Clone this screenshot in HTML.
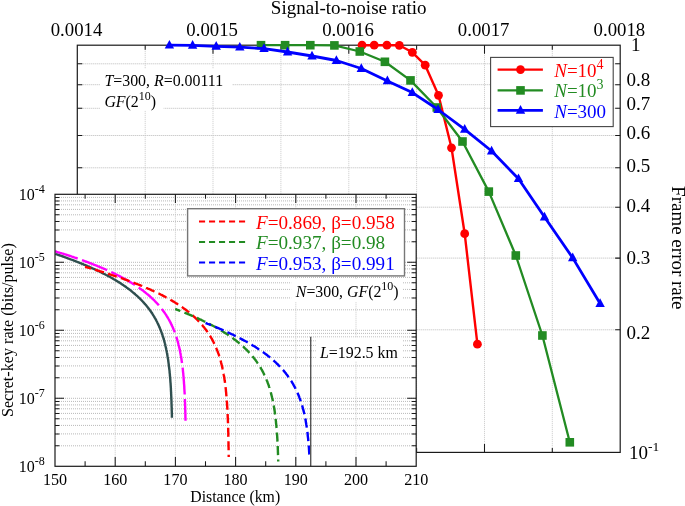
<!DOCTYPE html>
<html lang="en"><head><meta charset="utf-8"><title>Frame error rate vs signal-to-noise ratio</title>
<style>html,body{margin:0;padding:0;background:#fff}body{width:685px;height:506px;overflow:hidden}svg,svg text{font-family:"Liberation Serif","DejaVu Serif",serif}</style>
</head><body>
<svg width="685" height="506" viewBox="0 0 685 506" style="display:block;will-change:transform">
<rect width="685" height="506" fill="#fff"/>
<path d="M77.3 63.8 H620.2 M77.3 84.7 H620.2 M77.3 108.3 H620.2 M77.3 135.5 H620.2 M77.3 167.8 H620.2 M77.3 207.2 H620.2 M77.3 258.1 H620.2 M77.3 329.8 H620.2" stroke="#b9b9b9" stroke-width="1" stroke-dasharray="1 1" fill="none"/>
<path d="M213.0 45.2 V452.4 M348.8 45.2 V452.4 M484.5 45.2 V452.4 M145.2 45.2 V452.4 M280.9 45.2 V452.4 M416.6 45.2 V452.4 M552.3 45.2 V452.4" stroke="#c8c8c8" stroke-width="1" stroke-dasharray="1 1" fill="none"/>
<path d="M213.0 45.2 v8.5 M213.0 452.4 v-8.5 M348.8 45.2 v8.5 M348.8 452.4 v-8.5 M484.5 45.2 v8.5 M484.5 452.4 v-8.5 M145.2 45.2 v4.5 M145.2 452.4 v-4.5 M280.9 45.2 v4.5 M280.9 452.4 v-4.5 M416.6 45.2 v4.5 M416.6 452.4 v-4.5 M552.3 45.2 v4.5 M552.3 452.4 v-4.5 M77.3 63.8 h5 M620.2 63.8 h-5 M77.3 84.7 h5 M620.2 84.7 h-5 M77.3 108.3 h5 M620.2 108.3 h-5 M77.3 135.5 h5 M620.2 135.5 h-5 M77.3 167.8 h5 M620.2 167.8 h-5 M77.3 207.2 h5 M620.2 207.2 h-5 M77.3 258.1 h5 M620.2 258.1 h-5 M77.3 329.8 h5 M620.2 329.8 h-5" stroke="#1a1a1a" stroke-width="1.05" fill="none"/>
<rect x="77.3" y="45.2" width="542.9" height="407.2" fill="none" stroke="#1a1a1a" stroke-width="1.2"/>
<path d="M362.0 45.2 L374.2 45.2 L386.9 45.2 L399.3 45.3 L412.3 52.3 L425.2 65.2 L438.5 95.3 L451.5 147.8 L464.7 233.7 L477.4 344.2" fill="none" stroke="#ff0000" stroke-width="2.4" stroke-linejoin="round"/>
<circle cx="362.0" cy="45.2" r="4.4" fill="#ff0000"/>
<circle cx="374.2" cy="45.2" r="4.4" fill="#ff0000"/>
<circle cx="386.9" cy="45.2" r="4.4" fill="#ff0000"/>
<circle cx="399.3" cy="45.3" r="4.4" fill="#ff0000"/>
<circle cx="412.3" cy="52.3" r="4.4" fill="#ff0000"/>
<circle cx="425.2" cy="65.2" r="4.4" fill="#ff0000"/>
<circle cx="438.5" cy="95.3" r="4.4" fill="#ff0000"/>
<circle cx="451.5" cy="147.8" r="4.4" fill="#ff0000"/>
<circle cx="464.7" cy="233.7" r="4.4" fill="#ff0000"/>
<circle cx="477.4" cy="344.2" r="4.4" fill="#ff0000"/>
<path d="M261.0 45.2 L285.1 45.2 L310.3 45.2 L334.4 45.4 L359.8 51.5 L384.9 61.8 L410.5 80.4 L436.8 107.5 L462.5 141.5 L488.8 191.6 L515.8 255.5 L542.4 335.5 L569.8 442.3" fill="none" stroke="#228b22" stroke-width="2.3" stroke-linejoin="round"/>
<rect x="256.7" y="40.9" width="8.6" height="8.6" fill="#228b22"/>
<rect x="280.8" y="40.9" width="8.6" height="8.6" fill="#228b22"/>
<rect x="306.0" y="40.9" width="8.6" height="8.6" fill="#228b22"/>
<rect x="330.1" y="41.1" width="8.6" height="8.6" fill="#228b22"/>
<rect x="355.5" y="47.2" width="8.6" height="8.6" fill="#228b22"/>
<rect x="380.6" y="57.5" width="8.6" height="8.6" fill="#228b22"/>
<rect x="406.2" y="76.1" width="8.6" height="8.6" fill="#228b22"/>
<rect x="432.5" y="103.2" width="8.6" height="8.6" fill="#228b22"/>
<rect x="458.2" y="137.2" width="8.6" height="8.6" fill="#228b22"/>
<rect x="484.5" y="187.3" width="8.6" height="8.6" fill="#228b22"/>
<rect x="511.5" y="251.2" width="8.6" height="8.6" fill="#228b22"/>
<rect x="538.1" y="331.2" width="8.6" height="8.6" fill="#228b22"/>
<rect x="565.5" y="438.0" width="8.6" height="8.6" fill="#228b22"/>
<path d="M169.4 45.2 L192.6 45.3 L216.2 46.3 L239.8 47.2 L264.0 48.6 L287.6 52.0 L312.0 56.0 L336.4 60.5 L361.3 68.5 L387.4 80.9 L412.3 92.6 L438.0 109.5 L464.7 129.3 L491.6 151.0 L518.5 178.7 L544.5 217.0 L572.7 257.9 L600.1 303.5" fill="none" stroke="#0000ff" stroke-width="2.8" stroke-linejoin="round"/>
<path d="M169.4 39.9 L174.1 48.6 L164.7 48.6Z" fill="#0000ff"/>
<path d="M192.6 40.0 L197.3 48.7 L187.9 48.7Z" fill="#0000ff"/>
<path d="M216.2 41.0 L220.9 49.7 L211.5 49.7Z" fill="#0000ff"/>
<path d="M239.8 41.9 L244.5 50.6 L235.1 50.6Z" fill="#0000ff"/>
<path d="M264.0 43.3 L268.7 52.0 L259.3 52.0Z" fill="#0000ff"/>
<path d="M287.6 46.7 L292.3 55.4 L282.9 55.4Z" fill="#0000ff"/>
<path d="M312.0 50.7 L316.7 59.4 L307.3 59.4Z" fill="#0000ff"/>
<path d="M336.4 55.2 L341.1 63.9 L331.7 63.9Z" fill="#0000ff"/>
<path d="M361.3 63.2 L366.0 71.9 L356.6 71.9Z" fill="#0000ff"/>
<path d="M387.4 75.6 L392.1 84.3 L382.7 84.3Z" fill="#0000ff"/>
<path d="M412.3 87.3 L417.0 96.0 L407.6 96.0Z" fill="#0000ff"/>
<path d="M438.0 104.2 L442.7 112.9 L433.3 112.9Z" fill="#0000ff"/>
<path d="M464.7 124.0 L469.4 132.7 L460.0 132.7Z" fill="#0000ff"/>
<path d="M491.6 145.7 L496.3 154.4 L486.9 154.4Z" fill="#0000ff"/>
<path d="M518.5 173.4 L523.2 182.1 L513.8 182.1Z" fill="#0000ff"/>
<path d="M544.5 211.7 L549.2 220.4 L539.8 220.4Z" fill="#0000ff"/>
<path d="M572.7 252.6 L577.4 261.3 L568.0 261.3Z" fill="#0000ff"/>
<path d="M600.1 298.2 L604.8 306.9 L595.4 306.9Z" fill="#0000ff"/>
<rect x="490.6" y="57.4" width="122.6" height="69.2" fill="#fff" stroke="#444" stroke-width="1.1"/>
<path d="M497.6 69.6 H542.9" stroke="#ff0000" stroke-width="2.4" />
<circle cx="520.5" cy="69.6" r="4.4" fill="#ff0000"/>
<text x="554.2" y="76.6" font-size="19" fill="#ff0000"><tspan font-style="italic">N</tspan>=10<tspan dy="-8" font-size="14">4</tspan></text>
<path d="M497.6 90.4 H542.9" stroke="#228b22" stroke-width="2.4" />
<rect x="516.2" y="86.1" width="8.6" height="8.6" fill="#228b22"/>
<text x="554.2" y="97.3" font-size="19" fill="#228b22"><tspan font-style="italic">N</tspan>=10<tspan dy="-8" font-size="14">3</tspan></text>
<path d="M497.6 110.4 H542.9" stroke="#0000ff" stroke-width="2.7" />
<path d="M520.5 105.1 L525.2 113.8 L515.8 113.8Z" fill="#0000ff"/>
<text x="554.2" y="117.7" font-size="19" fill="#0000ff"><tspan font-style="italic">N</tspan>=300</text>
<text x="76.5" y="36" font-size="18.8" text-anchor="middle" fill="#000">0.0014</text>
<text x="212.2" y="36" font-size="18.8" text-anchor="middle" fill="#000">0.0015</text>
<text x="348.0" y="36" font-size="18.8" text-anchor="middle" fill="#000">0.0016</text>
<text x="483.7" y="36" font-size="18.8" text-anchor="middle" fill="#000">0.0017</text>
<text x="619.4" y="36" font-size="18.8" text-anchor="middle" fill="#000">0.0018</text>
<text x="348.7" y="13.8" font-size="19" text-anchor="middle" fill="#000">Signal-to-noise ratio</text>
<text x="631" y="51.2" font-size="19" fill="#000">1</text>
<text x="626.6" y="86.4" font-size="19" fill="#000">0.8</text>
<text x="626.6" y="110" font-size="19" fill="#000">0.7</text>
<text x="626.6" y="138.7" font-size="19" fill="#000">0.6</text>
<text x="626.6" y="171.5" font-size="19" fill="#000">0.5</text>
<text x="626.6" y="211.6" font-size="19" fill="#000">0.4</text>
<text x="626.6" y="264.4" font-size="19" fill="#000">0.3</text>
<text x="626.6" y="338.9" font-size="19" fill="#000">0.2</text>
<text x="629" y="458.9" font-size="19" fill="#000">10<tspan dy="-8" font-size="13.5">-1</tspan></text>
<text transform="translate(672.2 247.8) rotate(90)" font-size="19" text-anchor="middle" fill="#000">Frame error rate</text>
<rect x="100" y="69" width="132" height="22" fill="#fff"/><rect x="100" y="90" width="63.5" height="20.5" fill="#fff"/>
<text x="104.4" y="86.2" font-size="15.9" fill="#000"><tspan font-style="italic">T</tspan>=300, <tspan font-style="italic">R</tspan>=0.00111</text>
<text x="104.4" y="106.8" font-size="15.9" fill="#000"><tspan font-style="italic">GF</tspan>(2<tspan dy="-7" font-size="12">10</tspan><tspan dy="7">)</tspan></text>
<rect x="55.0" y="194.3" width="361.2" height="272.0" fill="#fff"/>
<path d="M55.0 262.3 H416.2 M55.0 241.8 H416.2 M55.0 229.9 H416.2 M55.0 221.4 H416.2 M55.0 214.8 H416.2 M55.0 209.4 H416.2 M55.0 204.8 H416.2 M55.0 200.9 H416.2 M55.0 197.4 H416.2 M55.0 330.3 H416.2 M55.0 309.8 H416.2 M55.0 297.9 H416.2 M55.0 289.4 H416.2 M55.0 282.8 H416.2 M55.0 277.4 H416.2 M55.0 272.8 H416.2 M55.0 268.9 H416.2 M55.0 265.4 H416.2 M55.0 398.3 H416.2 M55.0 377.8 H416.2 M55.0 365.9 H416.2 M55.0 357.4 H416.2 M55.0 350.8 H416.2 M55.0 345.4 H416.2 M55.0 340.8 H416.2 M55.0 336.9 H416.2 M55.0 333.4 H416.2 M55.0 445.8 H416.2 M55.0 433.9 H416.2 M55.0 425.4 H416.2 M55.0 418.8 H416.2 M55.0 413.4 H416.2 M55.0 408.8 H416.2 M55.0 404.9 H416.2 M55.0 401.4 H416.2" stroke="#b9b9b9" stroke-width="1" stroke-dasharray="1 1" fill="none"/>
<path d="M115.2 194.3 V466.3 M175.4 194.3 V466.3 M235.6 194.3 V466.3 M295.8 194.3 V466.3 M356.0 194.3 V466.3" stroke="#c8c8c8" stroke-width="1" stroke-dasharray="1 1" fill="none"/>
<path d="M115.2 194.3 v8.6 M115.2 466.3 v-9.3 M175.4 194.3 v8.6 M175.4 466.3 v-9.3 M235.6 194.3 v8.6 M235.6 466.3 v-9.3 M295.8 194.3 v8.6 M295.8 466.3 v-9.3 M356.0 194.3 v8.6 M356.0 466.3 v-9.3 M85.1 194.3 v4.4 M85.1 466.3 v-5 M145.3 194.3 v4.4 M145.3 466.3 v-5 M205.5 194.3 v4.4 M205.5 466.3 v-5 M265.7 194.3 v4.4 M265.7 466.3 v-5 M325.9 194.3 v4.4 M325.9 466.3 v-5 M386.1 194.3 v4.4 M386.1 466.3 v-5 M55.0 262.3 h9 M416.2 262.3 h-9 M55.0 241.8 h4.4 M416.2 241.8 h-4.4 M55.0 229.9 h4.4 M416.2 229.9 h-4.4 M55.0 221.4 h4.4 M416.2 221.4 h-4.4 M55.0 214.8 h4.4 M416.2 214.8 h-4.4 M55.0 209.4 h4.4 M416.2 209.4 h-4.4 M55.0 204.8 h4.4 M416.2 204.8 h-4.4 M55.0 200.9 h4.4 M416.2 200.9 h-4.4 M55.0 197.4 h4.4 M416.2 197.4 h-4.4 M55.0 330.3 h9 M416.2 330.3 h-9 M55.0 309.8 h4.4 M416.2 309.8 h-4.4 M55.0 297.9 h4.4 M416.2 297.9 h-4.4 M55.0 289.4 h4.4 M416.2 289.4 h-4.4 M55.0 282.8 h4.4 M416.2 282.8 h-4.4 M55.0 277.4 h4.4 M416.2 277.4 h-4.4 M55.0 272.8 h4.4 M416.2 272.8 h-4.4 M55.0 268.9 h4.4 M416.2 268.9 h-4.4 M55.0 265.4 h4.4 M416.2 265.4 h-4.4 M55.0 398.3 h9 M416.2 398.3 h-9 M55.0 377.8 h4.4 M416.2 377.8 h-4.4 M55.0 365.9 h4.4 M416.2 365.9 h-4.4 M55.0 357.4 h4.4 M416.2 357.4 h-4.4 M55.0 350.8 h4.4 M416.2 350.8 h-4.4 M55.0 345.4 h4.4 M416.2 345.4 h-4.4 M55.0 340.8 h4.4 M416.2 340.8 h-4.4 M55.0 336.9 h4.4 M416.2 336.9 h-4.4 M55.0 333.4 h4.4 M416.2 333.4 h-4.4 M55.0 445.8 h4.4 M416.2 445.8 h-4.4 M55.0 433.9 h4.4 M416.2 433.9 h-4.4 M55.0 425.4 h4.4 M416.2 425.4 h-4.4 M55.0 418.8 h4.4 M416.2 418.8 h-4.4 M55.0 413.4 h4.4 M416.2 413.4 h-4.4 M55.0 408.8 h4.4 M416.2 408.8 h-4.4 M55.0 404.9 h4.4 M416.2 404.9 h-4.4 M55.0 401.4 h4.4 M416.2 401.4 h-4.4" stroke="#1a1a1a" stroke-width="1.05" fill="none"/>
<path d="M55.3 253.9 L56.1 254.2 L56.9 254.4 L57.7 254.7 L58.4 255.0 L59.2 255.2 L60.0 255.5 L60.7 255.7 L61.9 256.1 L63.0 256.5 L64.1 256.9 L65.2 257.3 L66.2 257.7 L67.3 258.1 L68.4 258.5 L69.4 258.9 L70.5 259.3 L71.5 259.6 L72.5 260.0 L73.5 260.4 L74.5 260.8 L75.5 261.2 L76.5 261.6 L77.4 261.9 L78.4 262.3 L79.3 262.7 L80.3 263.1 L81.2 263.4 L82.1 263.8 L83.0 264.2 L83.9 264.6 L84.8 264.9 L85.7 265.3 L86.6 265.7 L87.4 266.1 L88.3 266.4 L89.1 266.8 L90.0 267.2 L90.8 267.5 L91.6 267.9 L92.4 268.3 L93.3 268.6 L94.1 269.0 L94.8 269.4 L95.6 269.7 L96.4 270.1 L97.2 270.4 L97.9 270.8 L98.7 271.2 L99.4 271.5 L100.1 271.9 L100.9 272.2 L101.6 272.6 L102.5 273.1 L103.5 273.6 L104.4 274.0 L105.3 274.5 L106.2 275.0 L107.1 275.4 L108.0 275.9 L108.9 276.4 L109.7 276.8 L110.5 277.3 L111.4 277.8 L112.2 278.2 L113.0 278.7 L113.8 279.2 L114.6 279.6 L115.4 280.1 L116.1 280.6 L116.9 281.0 L117.6 281.5 L118.4 281.9 L119.1 282.4 L119.8 282.8 L120.5 283.3 L121.2 283.8 L121.9 284.2 L122.6 284.7 L123.2 285.1 L124.1 285.7 L124.9 286.2 L125.7 286.8 L126.5 287.4 L127.2 287.9 L128.0 288.5 L128.7 289.0 L129.5 289.6 L130.2 290.1 L130.9 290.7 L131.6 291.3 L132.3 291.8 L132.9 292.4 L133.6 292.9 L134.3 293.5 L134.9 294.0 L135.5 294.6 L136.1 295.1 L136.7 295.6 L137.3 296.2 L137.9 296.7 L138.6 297.4 L139.3 298.0 L140.0 298.7 L140.6 299.3 L141.3 300.0 L141.9 300.6 L142.5 301.3 L143.1 301.9 L143.7 302.6 L144.3 303.2 L144.8 303.9 L145.4 304.5 L145.9 305.1 L146.5 305.8 L147.0 306.4 L147.5 307.1 L148.0 307.7 L148.5 308.3 L149.1 309.1 L149.6 309.8 L150.1 310.5 L150.7 311.3 L151.2 312.0 L151.7 312.8 L152.2 313.5 L152.6 314.2 L153.1 315.0 L153.5 315.7 L154.0 316.4 L154.4 317.2 L154.8 317.9 L155.3 318.6 L155.7 319.3 L156.1 320.1 L156.4 320.8 L156.8 321.5 L157.2 322.2 L157.5 323.0 L157.9 323.7 L158.2 324.4 L158.6 325.2 L159.0 326.1 L159.3 326.9 L159.7 327.7 L160.0 328.5 L160.4 329.4 L160.7 330.2 L161.0 331.0 L161.3 331.8 L161.6 332.6 L161.9 333.5 L162.2 334.3 L162.5 335.1 L162.7 335.9 L163.0 336.7 L163.3 337.5 L163.5 338.4 L163.7 339.2 L164.0 340.0 L164.2 340.8 L164.4 341.6 L164.6 342.4 L164.9 343.2 L165.1 344.1 L165.3 344.9 L165.4 345.7 L165.6 346.5 L165.8 347.3 L166.0 348.1 L166.2 348.9 L166.3 349.7 L166.5 350.5 L166.7 351.3 L166.8 352.2 L167.0 353.0 L167.1 353.8 L167.3 354.6 L167.4 355.4 L167.5 356.2 L167.7 357.0 L167.8 357.8 L167.9 358.6 L168.1 359.4 L168.2 360.2 L168.3 361.0 L168.4 361.8 L168.5 362.6 L168.6 363.4 L168.7 364.2 L168.8 365.0 L168.9 365.8 L169.0 366.7 L169.1 367.5 L169.2 368.3 L169.3 369.1 L169.4 369.9 L169.5 370.7 L169.6 371.5 L169.6 372.3 L169.7 373.1 L169.8 373.9 L169.9 374.7 L169.9 375.5 L170.0 376.3 L170.1 377.1 L170.1 377.9 L170.2 378.7 L170.3 379.5 L170.3 380.3 L170.4 381.1 L170.4 381.9 L170.5 382.7 L170.6 383.5 L170.6 384.3 L170.7 385.1 L170.7 385.9 L170.8 386.7 L170.8 387.5 L170.9 388.3 L170.9 389.1 L170.9 389.9 L171.0 390.7 L171.0 391.5 L171.1 392.3 L171.1 393.1 L171.1 394.0 L171.2 394.9 L171.2 395.8 L171.3 396.7 L171.3 397.6 L171.3 398.5 L171.4 399.4 L171.4 400.3 L171.5 401.2 L171.5 402.1 L171.5 403.0 L171.5 403.9 L171.6 404.8 L171.6 405.7 L171.6 406.6 L171.7 407.5 L171.7 408.4 L171.7 409.2 L171.7 410.1 L171.8 411.0 L171.8 411.9 L171.8 412.8 L171.8 413.7 L171.9 414.6 L171.9 415.5 L171.9 416.4 L171.9 417.3 L171.9 417.8" fill="none" stroke="#2f4f4f" stroke-width="2.4"/>
<path d="M55.1 251.3 L56.0 251.5 L56.8 251.8 L57.7 252.1 L58.6 252.3 L59.4 252.6 L60.3 252.9 L61.1 253.1 L62.0 253.4 L62.8 253.6 L63.6 253.9 L64.4 254.2 L65.3 254.4 L66.1 254.7 L66.9 255.0 L67.7 255.2 L68.5 255.5 L69.3 255.7 L70.0 256.0 L70.8 256.2 L71.6 256.5 L72.4 256.8 L73.1 257.0 L73.9 257.3 L75.0 257.7 L76.1 258.0 L77.2 258.4 L78.3 258.8 L79.4 259.2 L80.5 259.6 L81.6 260.0 L82.6 260.3 L83.6 260.7 L84.7 261.1 L85.7 261.5 L86.7 261.8 L87.7 262.2 L88.7 262.6 L89.7 263.0 L90.6 263.3 L91.6 263.7 L92.6 264.1 L93.5 264.4 L94.4 264.8 L95.4 265.2 L96.3 265.5 L97.2 265.9 L98.1 266.3 L98.9 266.6 L99.8 267.0 L100.7 267.4 L101.5 267.7 L102.4 268.1 L103.2 268.4 L104.1 268.8 L104.9 269.2 L105.7 269.5 L106.5 269.9 L107.3 270.2 L108.1 270.6 L108.9 271.0 L109.7 271.3 L110.4 271.7 L111.2 272.0 L112.0 272.4 L112.7 272.7 L113.4 273.1 L114.2 273.4 L114.9 273.8 L115.9 274.3 L116.8 274.7 L117.7 275.2 L118.6 275.7 L119.5 276.1 L120.4 276.6 L121.3 277.1 L122.2 277.5 L123.0 278.0 L123.9 278.4 L124.7 278.9 L125.5 279.4 L126.3 279.8 L127.1 280.3 L127.9 280.7 L128.7 281.2 L129.5 281.6 L130.2 282.1 L131.0 282.5 L131.7 283.0 L132.4 283.4 L133.2 283.9 L133.9 284.3 L134.6 284.8 L135.3 285.2 L135.9 285.7 L136.6 286.1 L137.4 286.7 L138.3 287.2 L139.1 287.8 L139.8 288.4 L140.6 288.9 L141.4 289.5 L142.1 290.0 L142.9 290.6 L143.6 291.1 L144.3 291.7 L145.0 292.2 L145.7 292.8 L146.3 293.3 L147.0 293.9 L147.7 294.4 L148.3 294.9 L148.9 295.5 L149.6 296.0 L150.2 296.6 L150.8 297.1 L151.5 297.8 L152.2 298.4 L152.8 299.1 L153.5 299.7 L154.2 300.3 L154.8 301.0 L155.4 301.6 L156.0 302.3 L156.6 302.9 L157.2 303.5 L157.8 304.2 L158.4 304.8 L158.9 305.5 L159.5 306.1 L160.0 306.7 L160.5 307.4 L161.0 308.0 L161.5 308.6 L162.0 309.3 L162.6 310.0 L163.1 310.7 L163.7 311.5 L164.2 312.2 L164.7 312.9 L165.2 313.7 L165.7 314.4 L166.2 315.1 L166.6 315.9 L167.1 316.6 L167.5 317.3 L168.0 318.0 L168.4 318.8 L168.8 319.5 L169.2 320.2 L169.6 320.9 L170.0 321.7 L170.4 322.4 L170.7 323.1 L171.1 323.8 L171.4 324.6 L171.8 325.4 L172.2 326.2 L172.6 327.0 L172.9 327.8 L173.3 328.7 L173.6 329.5 L174.0 330.3 L174.3 331.1 L174.6 331.9 L174.9 332.8 L175.2 333.6 L175.5 334.4 L175.8 335.2 L176.0 336.0 L176.3 336.8 L176.6 337.7 L176.8 338.5 L177.1 339.3 L177.3 340.1 L177.5 340.9 L177.8 341.7 L178.0 342.5 L178.2 343.3 L178.4 344.2 L178.6 345.0 L178.8 345.8 L179.0 346.6 L179.2 347.4 L179.4 348.2 L179.6 349.0 L179.7 349.8 L179.9 350.6 L180.1 351.4 L180.2 352.2 L180.4 353.1 L180.5 353.9 L180.7 354.7 L180.8 355.5 L181.0 356.3 L181.1 357.1 L181.2 357.9 L181.4 358.7 L181.5 359.5 L181.6 360.3 L181.7 361.1 L181.8 361.9 L182.0 362.7 L182.1 363.5 L182.2 364.3 L182.3 365.1 L182.4 365.9 L182.5 366.7 L182.6 367.5 L182.7 368.3 L182.8 369.1 L182.9 369.9 L182.9 370.7 L183.0 371.5 L183.1 372.3 L183.2 373.1 L183.3 373.9 L183.3 374.8 L183.4 375.6 L183.5 376.4 L183.6 377.2 L183.6 378.0 L183.7 378.8 L183.7 379.6 L183.8 380.4 L183.9 381.2 L183.9 382.0 L184.0 382.8 L184.0 383.6 L184.1 384.4 L184.2 385.2 L184.2 386.0 L184.3 386.8 L184.3 387.6 L184.3 388.4 L184.4 389.2 L184.4 390.0 L184.5 390.8 L184.5 391.6 L184.6 392.3 L184.6 393.2 L184.7 394.1 L184.7 395.0 L184.7 395.9 L184.8 396.8 L184.8 397.7 L184.9 398.6 L184.9 399.5 L184.9 400.4 L185.0 401.3 L185.0 402.2 L185.0 403.1 L185.1 404.0 L185.1 404.9 L185.1 405.8 L185.2 406.7 L185.2 407.6 L185.2 408.5 L185.2 409.4 L185.3 410.3 L185.3 411.2 L185.3 412.1 L185.3 413.0 L185.4 413.9 L185.4 414.8 L185.4 415.7 L185.4 416.6 L185.4 417.5 L185.5 418.4 L185.5 419.3 L185.5 420.2 L185.5 420.8" fill="none" stroke="#ff00ff" stroke-width="2.4" stroke-dasharray="27 4.6" stroke-dashoffset="3.25"/>
<path d="M85.0 266.9 L86.0 267.1 L87.0 267.4 L87.9 267.7 L88.9 267.9 L89.8 268.2 L90.7 268.5 L91.7 268.8 L92.6 269.0 L93.5 269.3 L94.4 269.6 L95.3 269.8 L96.2 270.1 L97.1 270.4 L98.0 270.6 L98.9 270.9 L99.8 271.2 L100.6 271.4 L101.5 271.7 L102.3 272.0 L103.2 272.2 L104.0 272.5 L104.9 272.7 L105.7 273.0 L106.5 273.3 L107.4 273.5 L108.2 273.8 L109.0 274.0 L109.8 274.3 L110.6 274.6 L111.4 274.8 L112.2 275.1 L113.0 275.3 L113.7 275.6 L114.5 275.9 L115.3 276.1 L116.0 276.4 L116.8 276.6 L117.9 277.0 L119.1 277.4 L120.2 277.8 L121.3 278.1 L122.3 278.5 L123.4 278.9 L124.5 279.3 L125.5 279.7 L126.6 280.0 L127.6 280.4 L128.6 280.8 L129.6 281.2 L130.6 281.5 L131.6 281.9 L132.6 282.3 L133.6 282.6 L134.5 283.0 L135.5 283.4 L136.4 283.8 L137.3 284.1 L138.3 284.5 L139.2 284.9 L140.1 285.2 L141.0 285.6 L141.9 285.9 L142.7 286.3 L143.6 286.7 L144.5 287.0 L145.3 287.4 L146.2 287.8 L147.0 288.1 L147.8 288.5 L148.6 288.8 L149.4 289.2 L150.2 289.5 L151.0 289.9 L151.8 290.3 L152.6 290.6 L153.4 291.0 L154.1 291.3 L154.9 291.7 L155.6 292.0 L156.4 292.4 L157.1 292.7 L157.8 293.1 L158.8 293.5 L159.7 294.0 L160.6 294.5 L161.5 294.9 L162.5 295.4 L163.3 295.9 L164.2 296.3 L165.1 296.8 L165.9 297.3 L166.8 297.7 L167.6 298.2 L168.4 298.6 L169.3 299.1 L170.1 299.5 L170.8 300.0 L171.6 300.4 L172.4 300.9 L173.1 301.4 L173.9 301.8 L174.6 302.3 L175.4 302.7 L176.1 303.2 L176.8 303.6 L177.5 304.1 L178.2 304.5 L178.9 304.9 L179.5 305.4 L180.4 306.0 L181.2 306.5 L182.0 307.1 L182.8 307.6 L183.5 308.2 L184.3 308.7 L185.0 309.3 L185.8 309.8 L186.5 310.4 L187.2 310.9 L187.9 311.5 L188.6 312.0 L189.3 312.6 L189.9 313.1 L190.6 313.6 L191.2 314.2 L191.8 314.7 L192.5 315.3 L193.1 315.8 L193.7 316.4 L194.4 317.0 L195.1 317.6 L195.8 318.3 L196.4 318.9 L197.1 319.6 L197.7 320.2 L198.3 320.9 L199.0 321.5 L199.6 322.1 L200.1 322.8 L200.7 323.4 L201.3 324.1 L201.8 324.7 L202.4 325.3 L202.9 326.0 L203.4 326.6 L204.0 327.2 L204.5 327.9 L204.9 328.5 L205.5 329.2 L206.1 330.0 L206.6 330.7 L207.1 331.4 L207.6 332.2 L208.1 332.9 L208.6 333.6 L209.1 334.3 L209.5 335.1 L210.0 335.8 L210.4 336.5 L210.9 337.3 L211.3 338.0 L211.7 338.7 L212.1 339.4 L212.5 340.2 L212.9 340.9 L213.3 341.6 L213.6 342.3 L214.0 343.1 L214.3 343.8 L214.7 344.6 L215.1 345.4 L215.5 346.2 L215.8 347.1 L216.2 347.9 L216.5 348.7 L216.9 349.5 L217.2 350.3 L217.5 351.2 L217.8 352.0 L218.1 352.8 L218.4 353.6 L218.7 354.4 L219.0 355.2 L219.2 356.1 L219.5 356.9 L219.7 357.7 L220.0 358.5 L220.2 359.3 L220.5 360.1 L220.7 360.9 L220.9 361.7 L221.1 362.6 L221.3 363.4 L221.5 364.2 L221.7 365.0 L221.9 365.8 L222.1 366.6 L222.3 367.4 L222.5 368.2 L222.6 369.0 L222.8 369.8 L223.0 370.6 L223.1 371.4 L223.3 372.3 L223.5 373.1 L223.6 373.9 L223.7 374.7 L223.9 375.5 L224.0 376.3 L224.2 377.1 L224.3 377.9 L224.4 378.7 L224.5 379.5 L224.6 380.3 L224.8 381.1 L224.9 381.9 L225.0 382.7 L225.1 383.5 L225.2 384.3 L225.3 385.1 L225.4 385.9 L225.5 386.7 L225.6 387.5 L225.7 388.3 L225.8 389.1 L225.9 389.9 L225.9 390.7 L226.0 391.5 L226.1 392.3 L226.2 393.1 L226.2 394.0 L226.3 394.8 L226.4 395.6 L226.5 396.4 L226.5 397.2 L226.6 398.0 L226.7 398.8 L226.7 399.6 L226.8 400.4 L226.8 401.2 L226.9 402.0 L227.0 402.8 L227.0 403.6 L227.1 404.4 L227.1 405.2 L227.2 406.0 L227.2 406.8 L227.3 407.6 L227.3 408.4 L227.4 409.2 L227.4 410.0 L227.4 410.7 L227.5 411.6 L227.5 412.5 L227.6 413.4 L227.6 414.3 L227.7 415.2 L227.7 416.1 L227.7 417.0 L227.8 417.9 L227.8 418.8 L227.9 419.7 L227.9 420.6 L227.9 421.5 L228.0 422.4 L228.0 423.3 L228.0 424.2 L228.0 425.1 L228.1 426.0 L228.1 426.9 L228.1 427.8 L228.2 428.7 L228.2 429.6 L228.2 430.5 L228.2 431.4 L228.3 432.3 L228.3 433.2 L228.3 434.1 L228.3 435.0 L228.3 435.9 L228.4 436.8 L228.4 437.7 L228.4 438.6 L228.4 439.5 L228.4 440.4 L228.4 441.3 L228.5 442.2 L228.5 443.1 L228.5 444.0 L228.5 444.9 L228.5 445.7 L228.5 446.6 L228.6 447.5 L228.6 448.4 L228.6 449.3 L228.6 450.2 L228.6 451.1 L228.6 452.0 L228.6 452.9 L228.6 453.8 L228.7 454.7 L228.7 455.6 L228.7 456.5 L228.7 457.1" fill="none" stroke="#ff0000" stroke-width="2.4" stroke-dasharray="9.2 4.35" stroke-dashoffset="3.04"/>
<path d="M175.2 309.0 L176.3 309.4 L177.3 309.8 L178.3 310.2 L179.3 310.6 L180.3 311.0 L181.3 311.4 L182.3 311.7 L183.3 312.1 L184.3 312.5 L185.2 312.9 L186.2 313.3 L187.1 313.7 L188.0 314.1 L188.9 314.5 L189.8 314.8 L190.7 315.2 L191.6 315.6 L192.5 316.0 L193.4 316.4 L194.2 316.7 L195.1 317.1 L195.9 317.5 L196.8 317.9 L197.6 318.2 L198.4 318.6 L199.2 319.0 L200.0 319.4 L200.8 319.7 L201.6 320.1 L202.4 320.5 L203.2 320.8 L203.9 321.2 L204.7 321.6 L205.4 322.0 L206.2 322.3 L206.9 322.7 L207.6 323.1 L208.3 323.4 L209.3 323.9 L210.2 324.4 L211.1 324.9 L212.1 325.3 L212.9 325.8 L213.8 326.3 L214.7 326.8 L215.6 327.3 L216.4 327.7 L217.3 328.2 L218.1 328.7 L218.9 329.2 L219.7 329.6 L220.5 330.1 L221.3 330.6 L222.1 331.0 L222.8 331.5 L223.6 332.0 L224.3 332.4 L225.1 332.9 L225.8 333.4 L226.5 333.8 L227.2 334.3 L227.9 334.7 L228.6 335.2 L229.2 335.7 L229.9 336.1 L230.6 336.6 L231.4 337.2 L232.2 337.7 L233.0 338.3 L233.7 338.9 L234.5 339.4 L235.2 340.0 L236.0 340.5 L236.7 341.1 L237.4 341.7 L238.1 342.2 L238.8 342.8 L239.4 343.3 L240.1 343.9 L240.8 344.5 L241.4 345.0 L242.0 345.6 L242.6 346.1 L243.3 346.7 L243.9 347.2 L244.4 347.8 L245.1 348.4 L245.8 349.1 L246.5 349.7 L247.1 350.4 L247.8 351.1 L248.4 351.7 L249.0 352.4 L249.6 353.0 L250.2 353.7 L250.8 354.3 L251.3 355.0 L251.9 355.6 L252.4 356.2 L253.0 356.9 L253.5 357.5 L254.0 358.2 L254.5 358.8 L255.0 359.5 L255.5 360.1 L256.0 360.8 L256.6 361.6 L257.1 362.3 L257.6 363.1 L258.1 363.8 L258.6 364.5 L259.1 365.3 L259.5 366.0 L260.0 366.8 L260.4 367.5 L260.9 368.2 L261.3 369.0 L261.7 369.7 L262.1 370.4 L262.5 371.2 L262.9 371.9 L263.3 372.6 L263.6 373.3 L264.0 374.1 L264.3 374.8 L264.7 375.5 L265.1 376.4 L265.4 377.2 L265.8 378.0 L266.2 378.8 L266.5 379.7 L266.8 380.5 L267.2 381.3 L267.5 382.1 L267.8 383.0 L268.1 383.8 L268.4 384.6 L268.7 385.4 L268.9 386.2 L269.2 387.1 L269.5 387.9 L269.7 388.7 L270.0 389.5 L270.2 390.3 L270.4 391.1 L270.7 392.0 L270.9 392.8 L271.1 393.6 L271.3 394.4 L271.5 395.2 L271.7 396.0 L271.9 396.8 L272.1 397.7 L272.3 398.5 L272.5 399.3 L272.7 400.1 L272.8 400.9 L273.0 401.7 L273.2 402.5 L273.3 403.3 L273.5 404.1 L273.6 405.0 L273.8 405.8 L273.9 406.6 L274.0 407.4 L274.2 408.2 L274.3 409.0 L274.4 409.8 L274.6 410.6 L274.7 411.4 L274.8 412.2 L274.9 413.0 L275.0 413.8 L275.1 414.6 L275.2 415.4 L275.3 416.2 L275.4 417.1 L275.5 417.9 L275.6 418.7 L275.7 419.5 L275.8 420.3 L275.9 421.1 L276.0 421.9 L276.0 422.7 L276.1 423.5 L276.2 424.3 L276.3 425.1 L276.4 425.9 L276.4 426.7 L276.5 427.5 L276.6 428.3 L276.6 429.1 L276.7 429.9 L276.8 430.7 L276.8 431.5 L276.9 432.3 L276.9 433.1 L277.0 433.9 L277.1 434.7 L277.1 435.5 L277.2 436.3 L277.2 437.1 L277.3 437.9 L277.3 438.7 L277.4 439.5 L277.4 440.3 L277.4 441.1 L277.5 441.9 L277.5 442.7 L277.6 443.5 L277.6 444.3 L277.6 445.1 L277.7 445.9 L277.7 446.7 L277.8 447.6 L277.8 448.5 L277.8 449.4 L277.9 450.3 L277.9 451.2 L277.9 452.1 L278.0 453.0 L278.0 453.9 L278.0 454.8 L278.1 455.7 L278.1 456.6 L278.1 457.5 L278.2 458.4 L278.2 459.3 L278.2 460.2 L278.2 461.1 L278.2 461.6" fill="none" stroke="#228b22" stroke-width="2.4" stroke-dasharray="9.2 4.4" stroke-dashoffset="3.7"/>
<path d="M205.5 323.0 L206.6 323.4 L207.6 323.8 L208.7 324.2 L209.7 324.6 L210.7 325.0 L211.7 325.4 L212.7 325.8 L213.7 326.2 L214.7 326.6 L215.7 327.0 L216.6 327.4 L217.6 327.8 L218.5 328.2 L219.4 328.6 L220.4 329.0 L221.3 329.4 L222.2 329.8 L223.1 330.2 L224.0 330.6 L224.8 331.0 L225.7 331.4 L226.6 331.8 L227.4 332.1 L228.2 332.5 L229.1 332.9 L229.9 333.3 L230.7 333.7 L231.5 334.1 L232.3 334.4 L233.1 334.8 L233.9 335.2 L234.7 335.6 L235.5 336.0 L236.2 336.3 L237.0 336.7 L237.7 337.1 L238.5 337.5 L239.2 337.8 L239.9 338.2 L240.6 338.6 L241.6 339.1 L242.5 339.6 L243.4 340.1 L244.3 340.6 L245.2 341.0 L246.1 341.5 L247.0 342.0 L247.8 342.5 L248.7 343.0 L249.5 343.5 L250.3 343.9 L251.1 344.4 L251.9 344.9 L252.7 345.4 L253.5 345.9 L254.3 346.3 L255.1 346.8 L255.8 347.3 L256.5 347.8 L257.3 348.2 L258.0 348.7 L258.7 349.2 L259.4 349.6 L260.1 350.1 L260.8 350.6 L261.5 351.0 L262.1 351.5 L262.8 352.0 L263.6 352.5 L264.4 353.1 L265.2 353.7 L265.9 354.3 L266.7 354.8 L267.4 355.4 L268.1 356.0 L268.9 356.6 L269.6 357.1 L270.3 357.7 L270.9 358.3 L271.6 358.8 L272.3 359.4 L272.9 359.9 L273.6 360.5 L274.2 361.1 L274.8 361.6 L275.4 362.2 L276.0 362.7 L276.6 363.3 L277.3 364.0 L278.0 364.6 L278.6 365.3 L279.3 365.9 L279.9 366.6 L280.5 367.3 L281.1 367.9 L281.7 368.6 L282.3 369.2 L282.9 369.9 L283.5 370.5 L284.0 371.2 L284.6 371.8 L285.1 372.5 L285.6 373.1 L286.1 373.8 L286.6 374.4 L287.1 375.1 L287.6 375.7 L288.1 376.5 L288.7 377.2 L289.2 378.0 L289.7 378.7 L290.2 379.4 L290.7 380.2 L291.2 380.9 L291.6 381.7 L292.1 382.4 L292.5 383.2 L293.0 383.9 L293.4 384.6 L293.8 385.4 L294.2 386.1 L294.6 386.8 L295.0 387.6 L295.4 388.3 L295.7 389.0 L296.1 389.8 L296.4 390.5 L296.8 391.2 L297.1 392.0 L297.5 392.8 L297.8 393.6 L298.2 394.4 L298.5 395.3 L298.9 396.1 L299.2 396.9 L299.5 397.8 L299.8 398.6 L300.1 399.4 L300.4 400.2 L300.7 401.1 L301.0 401.9 L301.2 402.7 L301.5 403.5 L301.8 404.3 L302.0 405.2 L302.3 406.0 L302.5 406.8 L302.7 407.6 L302.9 408.4 L303.2 409.3 L303.4 410.1 L303.6 410.9 L303.8 411.7 L304.0 412.5 L304.2 413.3 L304.3 414.1 L304.5 415.0 L304.7 415.8 L304.9 416.6 L305.0 417.4 L305.2 418.2 L305.4 419.0 L305.5 419.8 L305.7 420.6 L305.8 421.4 L305.9 422.3 L306.1 423.1 L306.2 423.9 L306.3 424.7 L306.5 425.5 L306.6 426.3 L306.7 427.1 L306.8 427.9 L306.9 428.7 L307.1 429.5 L307.2 430.3 L307.3 431.1 L307.4 431.9 L307.5 432.7 L307.6 433.6 L307.7 434.4 L307.7 435.2 L307.8 436.0 L307.9 436.8 L308.0 437.6 L308.1 438.4 L308.2 439.2 L308.2 440.0 L308.3 440.8 L308.4 441.6 L308.5 442.4 L308.5 443.2 L308.6 444.0 L308.7 444.8 L308.7 445.6 L308.8 446.4 L308.9 447.2 L308.9 448.0 L309.0 448.8 L309.0 449.6 L309.1 450.4 L309.1 451.2 L309.2 452.0 L309.2 452.8 L309.3 453.6 L309.3 454.4 L309.4 454.9" fill="none" stroke="#0000ff" stroke-width="2.4" stroke-dasharray="9.2 4.35" stroke-dashoffset="3.3"/>
<path d="M310.7 336.8 V466.3" stroke="#555" stroke-width="1.4"/>
<rect x="55.0" y="194.3" width="361.2" height="272.0" fill="none" stroke="#1a1a1a" stroke-width="1.2"/>
<rect x="187.6" y="208.7" width="216.9" height="67.2" fill="#fff" stroke="#777" stroke-width="1.4"/>
<path d="M199.0 221.6 H245.2" stroke="#ff0000" stroke-width="2.0" stroke-dasharray="6.1 3.9"/>
<text x="256" y="229.0" font-size="19.15" fill="#ff0000"><tspan font-style="italic">F</tspan>=0.869, β=0.958</text>
<path d="M199.0 242.0 H245.2" stroke="#228b22" stroke-width="2.0" stroke-dasharray="6.1 3.9"/>
<text x="256" y="249.4" font-size="19.15" fill="#228b22"><tspan font-style="italic">F</tspan>=0.937, β=0.98</text>
<path d="M199.0 262.4 H245.2" stroke="#0000ff" stroke-width="2.0" stroke-dasharray="6.1 3.9"/>
<text x="256" y="269.8" font-size="19.15" fill="#0000ff"><tspan font-style="italic">F</tspan>=0.953, β=0.991</text>
<rect x="291.2" y="279" width="111.4" height="23" fill="#fff"/><rect x="315.8" y="337.6" width="86.8" height="23.4" fill="#fff"/>
<text x="295.8" y="296.7" font-size="15.85" fill="#000"><tspan font-style="italic">N</tspan>=300, <tspan font-style="italic">GF</tspan>(2<tspan dy="-7" font-size="12">10</tspan><tspan dy="7">)</tspan></text>
<text x="320.0" y="358.2" font-size="15.9" fill="#000"><tspan font-style="italic">L</tspan>=192.5 km</text>
<text x="55.0" y="484.6" font-size="16.1" text-anchor="middle" fill="#000">150</text>
<text x="115.2" y="484.6" font-size="16.1" text-anchor="middle" fill="#000">160</text>
<text x="175.4" y="484.6" font-size="16.1" text-anchor="middle" fill="#000">170</text>
<text x="235.6" y="484.6" font-size="16.1" text-anchor="middle" fill="#000">180</text>
<text x="295.8" y="484.6" font-size="16.1" text-anchor="middle" fill="#000">190</text>
<text x="356.0" y="484.6" font-size="16.1" text-anchor="middle" fill="#000">200</text>
<text x="416.2" y="484.6" font-size="16.1" text-anchor="middle" fill="#000">210</text>
<text x="18.7" y="199.8" font-size="16" fill="#000">10<tspan dy="-6.8" font-size="12">-4</tspan></text>
<text x="18.7" y="267.8" font-size="16" fill="#000">10<tspan dy="-6.8" font-size="12">-5</tspan></text>
<text x="18.7" y="335.8" font-size="16" fill="#000">10<tspan dy="-6.8" font-size="12">-6</tspan></text>
<text x="18.7" y="403.8" font-size="16" fill="#000">10<tspan dy="-6.8" font-size="12">-7</tspan></text>
<text x="18.7" y="471.8" font-size="16" fill="#000">10<tspan dy="-6.8" font-size="12">-8</tspan></text>
<text x="235.2" y="502.3" font-size="15.8" text-anchor="middle" fill="#000">Distance (km)</text>
<text transform="translate(12.6 330.1) rotate(-90)" font-size="16.15" text-anchor="middle" fill="#000">Secret-key rate (bits/pulse)</text>
</svg>
</body></html>
